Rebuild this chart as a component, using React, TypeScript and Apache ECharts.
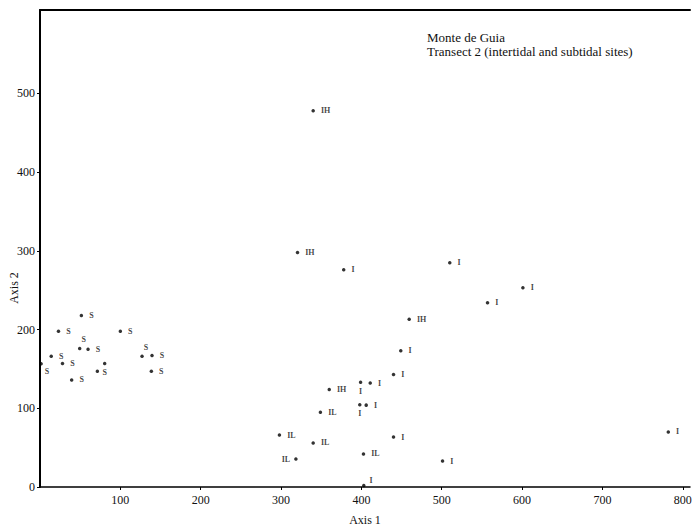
import React, { useEffect, useRef } from "react";
import * as echarts from "echarts";

// Axis 1 / Axis 2 scores per site group
const sX = [1.4, 14, 23, 28, 39.4, 51.5, 49.4, 59.8, 71.4, 80.5, 100, 127, 139.4, 138.6];
const sY = [156.6, 166, 198, 157, 136, 218, 176, 175, 147, 157, 198, 166, 167, 147];

const iX = [449, 440, 399, 411, 398, 406, 440, 501, 403, 378, 510, 601, 557, 782];
const iY = [173, 143, 133, 132, 104.5, 104, 63.5, 33, 2, 276, 285, 253, 234, 70];

const ihX = [340, 320.5, 360, 459.5];
const ihY = [478, 298, 124, 213];

const ilX = [349, 298, 340, 318.5, 402.6];
const ilY = [95, 66, 56, 35.5, 42];

const xTicks = [100, 200, 300, 400, 500, 600, 700, 800];
const yTicks = [0, 100, 200, 300, 400, 500];

const titleLines = ["Monte de Guia", "Transect 2 (intertidal and subtidal sites)"];

// label placement (style only), per point index
const sPlace = ["br", "r", "r", "r", "r", "r", "t", "r", "none", "b", "r", "t", "r", "r"];
const iPlace = ["r", "r", "b", "r", "b", "r", "r", "r", "tr", "r", "r", "r", "r", "r"];
const ihPlace = ["r", "r", "r", "r"];
const ilPlace = ["r", "r", "r", "l", "r"];

const FONT = "Liberation Serif";

function labelFor(p: string) {
  const base = { fontFamily: FONT, fontSize: 8, fontWeight: "bold", color: "#111" };
  switch (p) {
    case "none":
      return { show: false };
    case "b":
      return { ...base, show: true, position: "bottom", distance: 3 };
    case "t":
      return { ...base, show: true, position: "top", distance: 3, offset: [4, 0] };
    case "l":
      return { ...base, show: true, position: "left", distance: 4 };
    case "br":
      return { ...base, show: true, position: "right", distance: 2, offset: [0, 8] };
    case "tr":
      return { ...base, show: true, position: "right", distance: 4, offset: [0, -5] };
    default:
      return { ...base, show: true, position: "right", distance: 6 };
  }
}

function build(name: string, xs: number[], ys: number[], place: string[]) {
  return {
    type: "scatter",
    name,
    symbol: "circle",
    symbolSize: 3.5,
    itemStyle: { color: "#000" },
    label: { show: true, formatter: name },
    data: xs.map((x, i) => ({ value: [x, ys[i]], label: labelFor(place[i]) })),
  };
}

export default function App() {
  const ref = useRef<HTMLDivElement>(null);
  useEffect(() => {
    if (!ref.current) return;
    const chart = echarts.init(ref.current, null, { renderer: "svg" });
    chart.setOption({
      animation: false,
      backgroundColor: "#fff",
      grid: { left: 40, right: 5, top: 10, bottom: 41, containLabel: false, outerBoundsMode: "none" },
      xAxis: [
        {
          type: "value",
          min: 0,
          max: 809,
          name: "Axis 1",
          nameLocation: "middle",
          nameGap: 27,
          nameMoveOverlap: false,
          nameTextStyle: { fontFamily: FONT, fontSize: 12, color: "#111" },
          splitLine: { show: false },
          axisLine: { show: true, onZero: false, lineStyle: { color: "#000", width: 1.5 } },
          axisTick: { show: true, customValues: xTicks, length: 3, lineStyle: { color: "#000" } },
          axisLabel: { customValues: xTicks, fontFamily: FONT, fontSize: 12, color: "#111", margin: 7 },
        },
        {
          type: "value",
          position: "top",
          min: 0,
          max: 809,
          splitLine: { show: false },
          axisLine: { show: true, onZero: false, lineStyle: { color: "#000", width: 2 } },
          axisTick: { show: false },
          axisLabel: { show: false },
        },
      ],
      yAxis: {
        type: "value",
        min: 0,
        max: 606,
        splitLine: { show: false },
        axisLine: { show: true, onZero: false, lineStyle: { color: "#000", width: 2 } },
        axisTick: { show: true, customValues: yTicks, length: 3, lineStyle: { color: "#000" } },
        axisLabel: { customValues: yTicks, fontFamily: FONT, fontSize: 12, color: "#111", margin: 5 },
      },
      graphic: [
        {
          type: "text",
          x: 14,
          y: 288,
          rotation: Math.PI / 2,
          style: {
            text: "Axis 2",
            font: `12px "${FONT}"`,
            fill: "#111",
            align: "center",
            verticalAlign: "middle",
          },
        },
        {
          type: "text",
          left: 427,
          top: 30,
          style: { text: titleLines.join("\n"), font: `13px "${FONT}"`, fill: "#111", lineHeight: 14 },
        },
      ],
      series: [
        build("S", sX, sY, sPlace),
        build("I", iX, iY, iPlace),
        build("IH", ihX, ihY, ihPlace),
        build("IL", ilX, ilY, ilPlace),
      ],
    });
    return () => chart.dispose();
  }, []);
  return (
    <div
      ref={ref}
      style={{ position: "absolute", left: 0, top: 0, width: 695, height: 528 }}
    />
  );
}
